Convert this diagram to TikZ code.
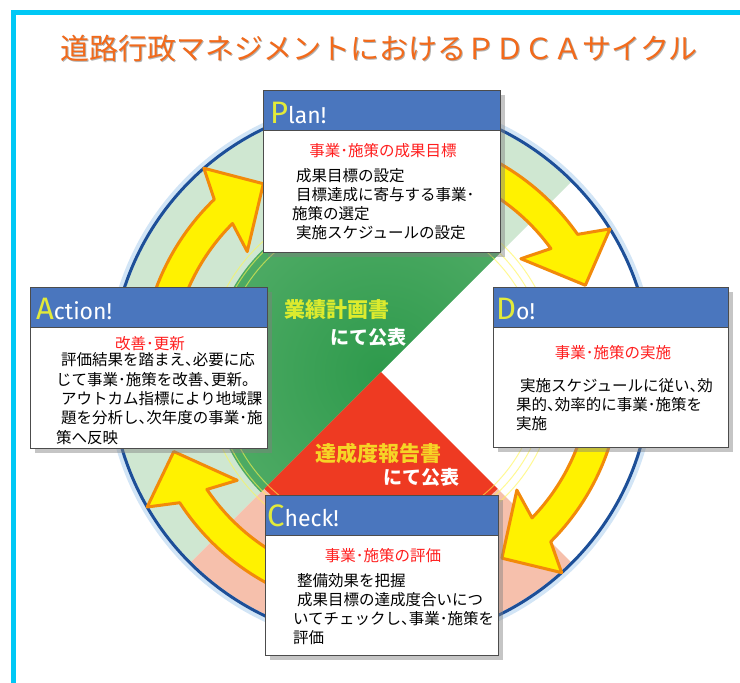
\documentclass[tikz,border=0pt]{standalone}
\usepackage{fontspec}
\setmainfont{Noto Sans CJK JP}[RawFeature=+halt]
\newfontfamily\headfont{Fira Sans}
\usetikzlibrary{shadows}

\definecolor{framecyan}{HTML}{00C8F5}
\definecolor{titleorange}{HTML}{F26A1B}
\definecolor{headblue}{HTML}{4A76BE}
\definecolor{ringblue}{HTML}{1D4F98}
\definecolor{glowblue}{HTML}{D2E5F6}
\definecolor{greenlight}{HTML}{CFE7D1}
\definecolor{greeninner}{HTML}{6DBB7C}
\definecolor{greendeep}{HTML}{2E9A4C}
\definecolor{pinklight}{HTML}{F6C0AC}
\definecolor{redinner}{HTML}{EE3A22}
\definecolor{arrowfill}{HTML}{FFF200}
\definecolor{arrowedge}{HTML}{F28A0A}
\definecolor{letteryellow}{HTML}{E2EA3A}
\definecolor{goalred}{HTML}{FF1E1E}
\definecolor{planyellow}{HTML}{DCEB2E}
\definecolor{reportyellow}{HTML}{F6D426}

\newcommand{\headword}[2]{{\color{letteryellow}\fontsize{31}{31}\selectfont #1}\fontsize{23}{23}\selectfont #2}

\tikzset{
  card/.style={draw=black!70, line width=1pt, fill=white, anchor=north west,
    drop shadow={opacity=0.45, shadow xshift=4pt, shadow yshift=-4pt}},
  headbar/.style={draw=black!70, line width=1pt, fill=headblue, anchor=north west, minimum height=40pt},
  headtext/.style={anchor=base west, inner sep=0pt, text=white, font=\headfont},
  goal/.style={anchor=base, inner sep=0pt, text=goalred, font=\fontsize{15.5}{19}\selectfont},
  body/.style={anchor=base west, inner sep=0pt, align=left},
  cycle arrow/.style={fill=arrowfill, draw=arrowedge, line width=3pt, line join=round},
  publish/.style={inner sep=0pt, font=\bfseries\fontsize{21}{21}\selectfont},
  publishsub/.style={inner sep=0pt, text=white, font=\bfseries\fontsize{19}{19}\selectfont}
}

\begin{document}
\begin{tikzpicture}[x=1pt, y=-1pt]
  \useasboundingbox (0,0) rectangle (740,683);
  \fill[white] (0,0) rectangle (740,683);
  \draw[framecyan, line width=5pt] (740,12) -- (13,12) -- (13,683);

  % title
  \node[text=black!30, font=\fontsize{29}{29}\selectfont] (titleshadow) at (380,50) {道路行政マネジメントにおけるＰＤＣＡサイクル};
  \node[text=titleorange, font=\fontsize{29}{29}\selectfont] (title) at (379,49) {道路行政マネジメントにおけるＰＤＣＡサイクル};

  % wheel
  \begin{scope}[shift={(381,372)}, yscale=-1]
    \fill[greenlight] (0,0) -- (45:270) arc[start angle=45, end angle=225, radius=270] -- cycle;
    \fill[pinklight] (0,0) -- (225:270) arc[start angle=225, end angle=315, radius=270] -- cycle;
    \begin{scope}
      \clip (0,0) -- (45:170) arc[start angle=45, end angle=225, radius=170] -- cycle;
      \shade[inner color=greendeep, outer color=greeninner] (0,0) circle[radius=340];
    \end{scope}
    \fill[redinner] (0,0) -- (225:165) arc[start angle=225, end angle=315, radius=165] -- cycle;
    \foreach \r in {160,168,176}
      \draw[yellow!70!white, opacity=0.6, line width=1pt] (0,0) circle[radius=\r];
    \draw[glowblue, line width=7pt] (0,0) circle[radius=272];
    \draw[ringblue, line width=3pt] (0,0) circle[radius=270];
    \foreach \tail/\tip in {175/122, 85/23, -5/-57, 265/201}
      \draw[cycle arrow] (\tail:240) arc[start angle=\tail, end angle=\tip+12, radius=240]
        -- ({\tip+9}:270) -- (\tip:222) -- ({\tip+16}:180) -- ({\tip+13}:210)
        arc[start angle=\tip+13, end angle=\tail, radius=210] -- cycle;
  \end{scope}

  % published documents
  \node[publish, text=planyellow] (plandoc) at (337,310) {業績計画書};
  \node[publishsub] (plandocsub) at (368,337) {にて公表};
  \node[publish, text=reportyellow] (reportdoc) at (378,453) {達成度報告書};
  \node[publishsub] (reportdocsub) at (421,477) {にて公表};

  % Plan
  \node[card, minimum width=237pt, minimum height=162pt] (plan) at (263,90) {};
  \node[headbar, minimum width=237pt] (planbar) at (plan.north west) {};
  \node[headtext] (planhead) at (270,123) {\headword{P}{lan!}};
  \node[goal] (plangoal) at (383,156) {事業･施策の成果目標};
  \node[body, font=\fontsize{15.5}{19}\selectfont] (plantext) at (292,238)
    {\hspace*{4pt}成果目標の設定\\ \hspace*{4pt}目標達成に寄与する事業･\\施策の選定\\ \hspace*{4pt}実施スケジュールの設定};

  % Do
  \node[card, minimum width=235pt, minimum height=160pt] (do) at (493,287) {};
  \node[headbar, minimum width=235pt] (dobar) at (do.north west) {};
  \node[headtext] (dohead) at (496,319) {\headword{D}{o!}};
  \node[goal] (dogoal) at (613,358) {事業･施策の実施};
  \node[body, font=\fontsize{15.5}{19}\selectfont] (dotext) at (516,429)
    {\hspace*{4pt}実施スケジュールに従い、効\\果的、効率的に事業･施策を\\実施};

  % Action
  \node[card, minimum width=237pt, minimum height=161pt] (action) at (30,287) {};
  \node[headbar, minimum width=237pt] (actionbar) at (action.north west) {};
  \node[headtext] (actionhead) at (36,319) {\headword{A}{ction!}};
  \node[goal] (actiongoal) at (150,349) {改善･更新};
  \node[body, font=\fontsize{15.5}{19.3}\selectfont] (actiontext) at (56,443)
    {\hspace*{5pt}評価結果を踏まえ、必要に応\\じて事業･施策を改善、更新。\\ \hspace*{5pt}アウトカム指標により地域課\\ \hspace*{5pt}題を分析し、次年度の事業･施\\策へ反映};

  % Check
  \node[card, minimum width=233pt, minimum height=160pt] (check) at (265,495) {};
  \node[headbar, minimum width=233pt] (checkbar) at (check.north west) {};
  \node[headtext] (checkhead) at (267,526) {\headword{C}{heck!}};
  \node[goal] (checkgoal) at (383,561) {事業･施策の評価};
  \node[body, font=\fontsize{15.5}{19}\selectfont] (checktext) at (293,643)
    {\hspace*{4pt}整備効果を把握\\ \hspace*{4pt}成果目標の達成度合いにつ\\いてチェックし、事業･施策を\\評価};
\end{tikzpicture}
\end{document}
